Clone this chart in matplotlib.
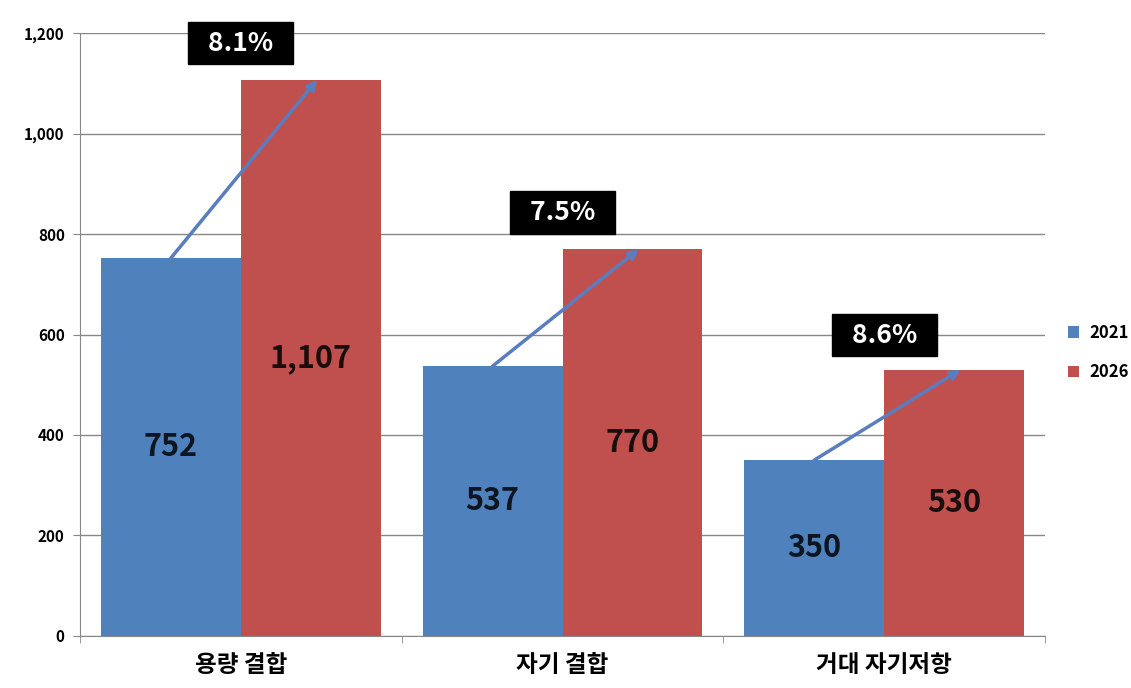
import matplotlib.pyplot as plt
import numpy as np

plt.rcParams['font.family'] = ['Noto Sans CJK KR', 'DejaVu Sans']

categories = ["용량 결합", "자기 결합", "거대 자기저항"]
years = ["2021", "2026"]
values_2021 = [752, 537, 350]
values_2026 = [1107, 770, 530]
labels_2021 = ["752", "537", "350"]
labels_2026 = ["1,107", "770", "530"]
growth = ["8.1%", "7.5%", "8.6%"]
growth_y = [1180, 843, 599]

blue = "#4F81BD"
red = "#C0504D"

fig = plt.figure(figsize=(11.31, 6.88), dpi=100)
ax = fig.add_axes([0.0707, 0.0756, 0.8533, 0.8764])

x = np.arange(len(categories))
w = 0.435
ax.bar(x - w / 2, values_2021, w, color=blue, label=years[0], zorder=2)
ax.bar(x + w / 2, values_2026, w, color=red, label=years[1], zorder=2)

for i in range(len(categories)):
    ax.text(x[i] - w / 2, values_2021[i] / 2, labels_2021[i], ha="center", va="center",
            fontsize=22, fontweight="bold", color="#0d1520", zorder=4)
    ax.text(x[i] + w / 2, values_2026[i] / 2, labels_2026[i], ha="center", va="center",
            fontsize=22, fontweight="bold", color="#1a0d0d", zorder=4)
    # growth arrow from 2021 top to 2026 top
    ax.annotate("", xy=(x[i] + w / 2 + 0.02, values_2026[i]), xytext=(x[i] - w / 2, values_2021[i]),
                arrowprops=dict(arrowstyle="-|>", color="#5A7DBF", lw=2.5, mutation_scale=14,
                                shrinkA=0, shrinkB=0), zorder=3)
    ax.text(x[i], growth_y[i], "  " + growth[i] + "  ", ha="center", va="center", fontsize=19,
            fontweight="bold", color="white", zorder=5,
            bbox=dict(boxstyle="square,pad=0.3", fc="black", ec="black"))

ax.set_xlim(-0.5, 2.5)
ax.set_ylim(0, 1200)
ax.set_yticks(np.arange(0, 1201, 200))
ax.set_yticklabels(["{:,}".format(v) for v in range(0, 1201, 200)])
ax.set_xticks(x)
ax.set_xticklabels(categories, fontsize=17, fontweight="bold")
ax.set_xticks([-0.5, 0.5, 1.5, 2.5], minor=True)
ax.tick_params(axis="x", which="major", length=0, pad=12)
ax.tick_params(axis="x", which="minor", length=5, color="#888888")
ax.tick_params(axis="y", length=5, color="#888888", labelsize=11, pad=6)
for lbl in ax.get_yticklabels():
    lbl.set_fontweight("bold")

ax.grid(axis="y", color="#888888", lw=1, zorder=0)
ax.spines["top"].set_visible(False)
ax.spines["right"].set_visible(False)
ax.spines["left"].set_color("#888888")
ax.spines["bottom"].set_color("#888888")

leg = ax.legend(loc="center left", bbox_to_anchor=(1.008, 0.47), frameon=False,
                handlelength=0.7, handleheight=0.7, labelspacing=1.3, handletextpad=0.6,
                prop={"weight": "bold", "size": 12})

fig.savefig("out.png", dpi=100)
